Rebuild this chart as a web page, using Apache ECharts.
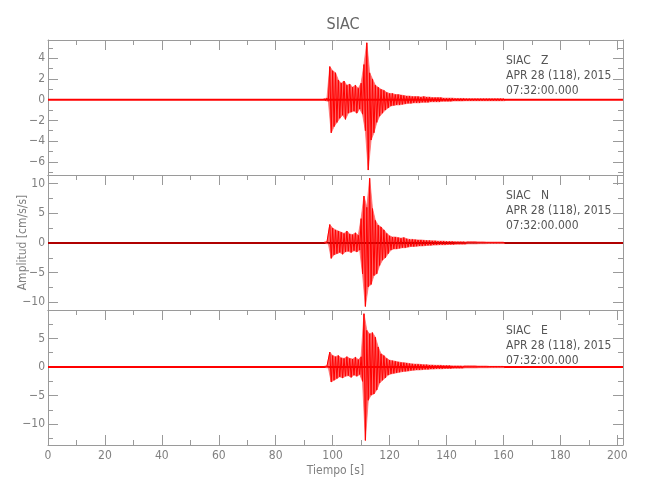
<!DOCTYPE html>
<html><head><meta charset="utf-8">
<script src="https://cdn.jsdelivr.net/npm/echarts@6/dist/echarts.min.js"></script>
<style>html,body{margin:0;padding:0;background:#fff}#c{width:650px;height:500px}</style>
</head><body><div id="c"></div>
<script>
const stationTitle = 'SIAC';
const componentNames = ['Z', 'N', 'E'];
const dateLine = 'APR 28 (118), 2015';
const timeLine = '07:32:00.000';
const xName = 'Tiempo [s]';
const yName = 'Amplitud [cm/s/s]';

// event window, seconds (one upper and one lower excursion read per second)
const eventTime = [97,98,99,100,101,102,103,104,105,106,107,108,109,110,111,112,113,114,115,116,117,118,119,120,121,122,123,124,125,126,127,128,129,130,131,132,133,134,135,136,137,138,139,140,141,142,143,144,145,146,147,148,149,150,151,152,153,154,155,156,157,158,159,160];

const zHi = [0.1,0.15,3.2,2.8,2.6,1.9,1.6,1.8,1.4,1.5,1.2,1.4,1.1,1.6,3.4,5.5,2.6,2.0,1.4,1.2,1.0,0.9,0.7,0.6,0.6,0.5,0.5,0.45,0.4,0.35,0.35,0.3,0.3,0.3,0.25,0.3,0.25,0.25,0.2,0.2,0.2,0.2,0.15,0.15,0.15,0.15,0.12,0.12,0.12,0.12,0.1,0.1,0.1,0.1,0.1,0.1,0.1,0.1,0.1,0.1,0.1,0.1,0.1,0.1];
const zLo = [-0.1,-0.15,-3.2,-2.6,-2.2,-1.8,-1.5,-1.9,-1.3,-1.2,-1.1,-1.3,-0.9,-1.4,-3.0,-6.8,-3.9,-3.2,-2.2,-1.6,-1.3,-1.0,-0.8,-0.6,-0.55,-0.5,-0.5,-0.45,-0.4,-0.35,-0.35,-0.3,-0.3,-0.3,-0.25,-0.25,-0.25,-0.2,-0.2,-0.2,-0.2,-0.15,-0.15,-0.15,-0.15,-0.12,-0.12,-0.12,-0.12,-0.1,-0.1,-0.1,-0.1,-0.1,-0.1,-0.1,-0.1,-0.1,-0.1,-0.1,-0.1,-0.1,-0.1,-0.1];

const nHi = [0.1,0.15,3.1,2.5,2.2,2.0,1.8,1.6,2.0,1.5,1.4,1.7,1.3,4.1,7.9,6.0,10.9,5.8,3.8,3.0,2.7,2.2,1.6,1.2,1.0,1.0,0.9,0.8,0.9,0.7,0.6,0.6,0.55,0.5,0.5,0.45,0.4,0.4,0.35,0.35,0.3,0.3,0.3,0.25,0.25,0.25,0.2,0.2,0.2,0.2,0.15,0.15,0.15,0.15,0.12,0.12,0.12,0.1,0.1,0.1,0.1,0.1,0.1,0.1];
const nLo = [-0.1,-0.15,-2.6,-2.0,-1.8,-1.6,-1.9,-1.5,-1.4,-1.6,-1.3,-1.5,-1.2,-5.2,-10.7,-7.4,-7.0,-5.5,-5.2,-3.8,-2.9,-2.5,-1.8,-1.2,-1.0,-1.0,-0.9,-0.8,-0.8,-0.7,-0.6,-0.6,-0.55,-0.5,-0.5,-0.45,-0.4,-0.4,-0.35,-0.35,-0.3,-0.3,-0.3,-0.25,-0.25,-0.25,-0.2,-0.2,-0.2,-0.2,-0.15,-0.15,-0.15,-0.15,-0.12,-0.12,-0.12,-0.1,-0.1,-0.1,-0.1,-0.1,-0.1,-0.1];

const eHi = [0.1,0.15,2.6,2.0,1.8,2.0,1.6,1.5,1.8,1.5,1.4,1.7,1.3,1.8,9.3,6.4,5.8,6.0,5.2,3.5,2.3,2.0,1.5,1.2,1.1,1.0,0.9,0.8,0.75,0.7,0.6,0.55,0.5,0.5,0.45,0.4,0.4,0.35,0.35,0.3,0.3,0.3,0.25,0.25,0.25,0.2,0.2,0.2,0.2,0.15,0.15,0.15,0.15,0.15,0.12,0.12,0.12,0.12,0.1,0.1,0.1,0.1,0.1,0.1];
const eLo = [-0.1,-0.15,-2.6,-2.3,-2.0,-1.7,-1.9,-1.6,-1.5,-1.8,-1.4,-1.6,-1.3,-2.5,-12.8,-5.8,-4.9,-4.7,-4.0,-2.8,-2.3,-1.9,-1.4,-1.2,-1.1,-1.0,-0.9,-0.8,-0.75,-0.7,-0.6,-0.55,-0.5,-0.5,-0.45,-0.4,-0.4,-0.35,-0.35,-0.3,-0.3,-0.3,-0.25,-0.25,-0.25,-0.2,-0.2,-0.2,-0.2,-0.15,-0.15,-0.15,-0.15,-0.15,-0.12,-0.12,-0.12,-0.12,-0.1,-0.1,-0.1,-0.1,-0.1,-0.1];

// quiet background trace (pre/post event noise level ~0)
const baselineT = [0, 202];
const baselineV = [0, 0];

const xRange = [0, 202];
const xMajorTicks = [0,20,40,60,80,100,120,140,160,180,200];
const xMinorTicks = [10,30,50,70,90,110,130,150,170,190];
const yRanges = [[-7.28, 5.77], [-11.3, 11.45], [-13.6, 9.95]];
const yMajorTicks = [[-6,-4,-2,0,2,4], [-10,-5,0,5,10], [-10,-5,0,5]];
const yMinorTicks = [[-7,-5,-3,-1,1,3,5], [-7.5,-2.5,2.5,7.5], [-12.5,-7.5,-2.5,2.5,7.5]];

const hiSets = [zHi, nHi, eHi];
const loSets = [zLo, nLo, eLo];

const FONT = "'DejaVu Sans Condensed','Liberation Sans Narrow',sans-serif";
const axisColor = '#9a9a9a';
const labelColor = '#808080';
const textColor = '#555555';
const traceColor = '#ff0000';

const panelTops = [40, 175, 310];
const panelH = 135;
const gridLeft = 48, gridW = 575;

function fmt(v) { return v < 0 ? '\u2212' + Math.abs(v) : String(v); }

const grid = [], xAxis = [], yAxis = [], series = [], graphic = [];
panelTops.forEach((top, i) => {
  grid.push({ left: gridLeft, top: top, width: gridW, height: panelH });
  const xBase = { type: 'value', gridIndex: i, min: xRange[0], max: xRange[1], splitLine: { show: false } };
  const xMainIndex = xAxis.length;
  xAxis.push(Object.assign({}, xBase, { position: 'top',
    axisLine: { show: true, onZero: false, lineStyle: { color: axisColor, width: 1 } },
    axisTick: { show: true, inside: true, length: 10, customValues: xMajorTicks, lineStyle: { color: axisColor } },
    axisLabel: { show: false } }));
  xAxis.push(Object.assign({}, xBase, { position: 'top',
    axisLine: { show: false, onZero: false },
    axisTick: { show: true, inside: true, length: 5, customValues: xMinorTicks, lineStyle: { color: axisColor } },
    axisLabel: { show: false } }));
  const isLast = i === panelTops.length - 1;
  xAxis.push(Object.assign({}, xBase, { position: 'bottom',
    axisLine: { show: true, onZero: false, lineStyle: { color: axisColor, width: 1 } },
    axisTick: { show: isLast, inside: true, length: 10, customValues: xMajorTicks, lineStyle: { color: axisColor } },
    axisLabel: { show: isLast, customValues: xMajorTicks, color: labelColor, fontFamily: FONT, fontSize: 12, margin: 5, formatter: fmt },
    name: isLast ? xName : '', nameLocation: 'middle', nameGap: 20,
    nameTextStyle: { color: labelColor, fontFamily: FONT, fontSize: 12 } }));
  if (isLast) {
    xAxis.push(Object.assign({}, xBase, { position: 'bottom',
      axisLine: { show: false, onZero: false },
      axisTick: { show: true, inside: true, length: 5, customValues: xMinorTicks, lineStyle: { color: axisColor } },
      axisLabel: { show: false } }));
  }

  const yBase = { type: 'value', gridIndex: i, min: yRanges[i][0], max: yRanges[i][1], splitLine: { show: false } };
  const yMainIndex = yAxis.length;
  yAxis.push(Object.assign({}, yBase, { position: 'left',
    axisLine: { show: true, onZero: false, lineStyle: { color: axisColor, width: 1 } },
    axisTick: { show: true, inside: true, length: 10, customValues: yMajorTicks[i], lineStyle: { color: axisColor } },
    axisLabel: { show: true, customValues: yMajorTicks[i], color: labelColor, fontFamily: FONT, fontSize: 12, margin: 3, formatter: fmt },
    name: i === 1 ? yName : '', nameLocation: 'middle', nameRotate: 90, nameGap: 19, nameMoveOverlap: false,
    nameTextStyle: { color: labelColor, fontFamily: FONT, fontSize: 12 } }));
  yAxis.push(Object.assign({}, yBase, { position: 'left',
    axisLine: { show: false, onZero: false },
    axisTick: { show: true, inside: true, length: 5, customValues: yMinorTicks[i], lineStyle: { color: axisColor } },
    axisLabel: { show: false } }));
  yAxis.push(Object.assign({}, yBase, { position: 'right',
    axisLine: { show: true, onZero: false, lineStyle: { color: axisColor, width: 1 } },
    axisTick: { show: true, inside: true, length: 10, customValues: yMajorTicks[i], lineStyle: { color: axisColor } },
    axisLabel: { show: false } }));
  yAxis.push(Object.assign({}, yBase, { position: 'right',
    axisLine: { show: false, onZero: false },
    axisTick: { show: true, inside: true, length: 5, customValues: yMinorTicks[i], lineStyle: { color: axisColor } },
    axisLabel: { show: false } }));

  // quiet baseline
  series.push({ type: 'line', xAxisIndex: xMainIndex, yAxisIndex: yMainIndex, showSymbol: false, silent: true,
    data: baselineT.map((t, k) => [t, baselineV[k]]),
    lineStyle: { color: i === 1 ? '#b00000' : traceColor, width: 2 }, z: 2 });
  // envelope fill (upper and lower excursions filled to zero)
  series.push({ type: 'line', xAxisIndex: xMainIndex, yAxisIndex: yMainIndex, showSymbol: false, silent: true,
    data: eventTime.map((t, k) => [t, hiSets[i][k]]),
    lineStyle: { width: 1, color: 'rgba(255,110,110,0.8)' }, areaStyle: { color: 'rgba(255,0,0,0.6)', opacity: 1 }, z: 2 });
  series.push({ type: 'line', xAxisIndex: xMainIndex, yAxisIndex: yMainIndex, showSymbol: false, silent: true,
    data: eventTime.map((t, k) => [t + 0.5, loSets[i][k]]),
    lineStyle: { width: 1, color: 'rgba(255,110,110,0.8)' }, areaStyle: { color: 'rgba(255,0,0,0.6)', opacity: 1 }, z: 2 });
  // event trace: alternate upper/lower excursions
  const pts = [];
  eventTime.forEach((t, k) => { pts.push([t, hiSets[i][k]]); pts.push([t + 0.5, loSets[i][k]]); });
  series.push({ type: 'line', xAxisIndex: xMainIndex, yAxisIndex: yMainIndex, showSymbol: false, silent: true,
    data: pts, lineStyle: { color: traceColor, width: 1 }, z: 3 });

  const lines = [stationTitle + '   ' + componentNames[i], dateLine, timeLine];
  lines.forEach((s, k) => {
    graphic.push({ type: 'text', left: 506, top: top + 15 + k * 15, silent: true,
      style: { text: s, fill: textColor, fontFamily: FONT, fontSize: 12 } });
  });
});

const chart = echarts.init(document.getElementById('c'), null, { renderer: 'canvas' });
chart.setOption({
  animation: false,
  backgroundColor: '#ffffff',
  title: { text: stationTitle, left: 338, top: 12, textAlign: 'center',
    textStyle: { color: '#666', fontFamily: FONT, fontSize: 16, fontWeight: 'normal' } },
  grid, xAxis, yAxis, series, graphic
});
</script>
</body></html>
